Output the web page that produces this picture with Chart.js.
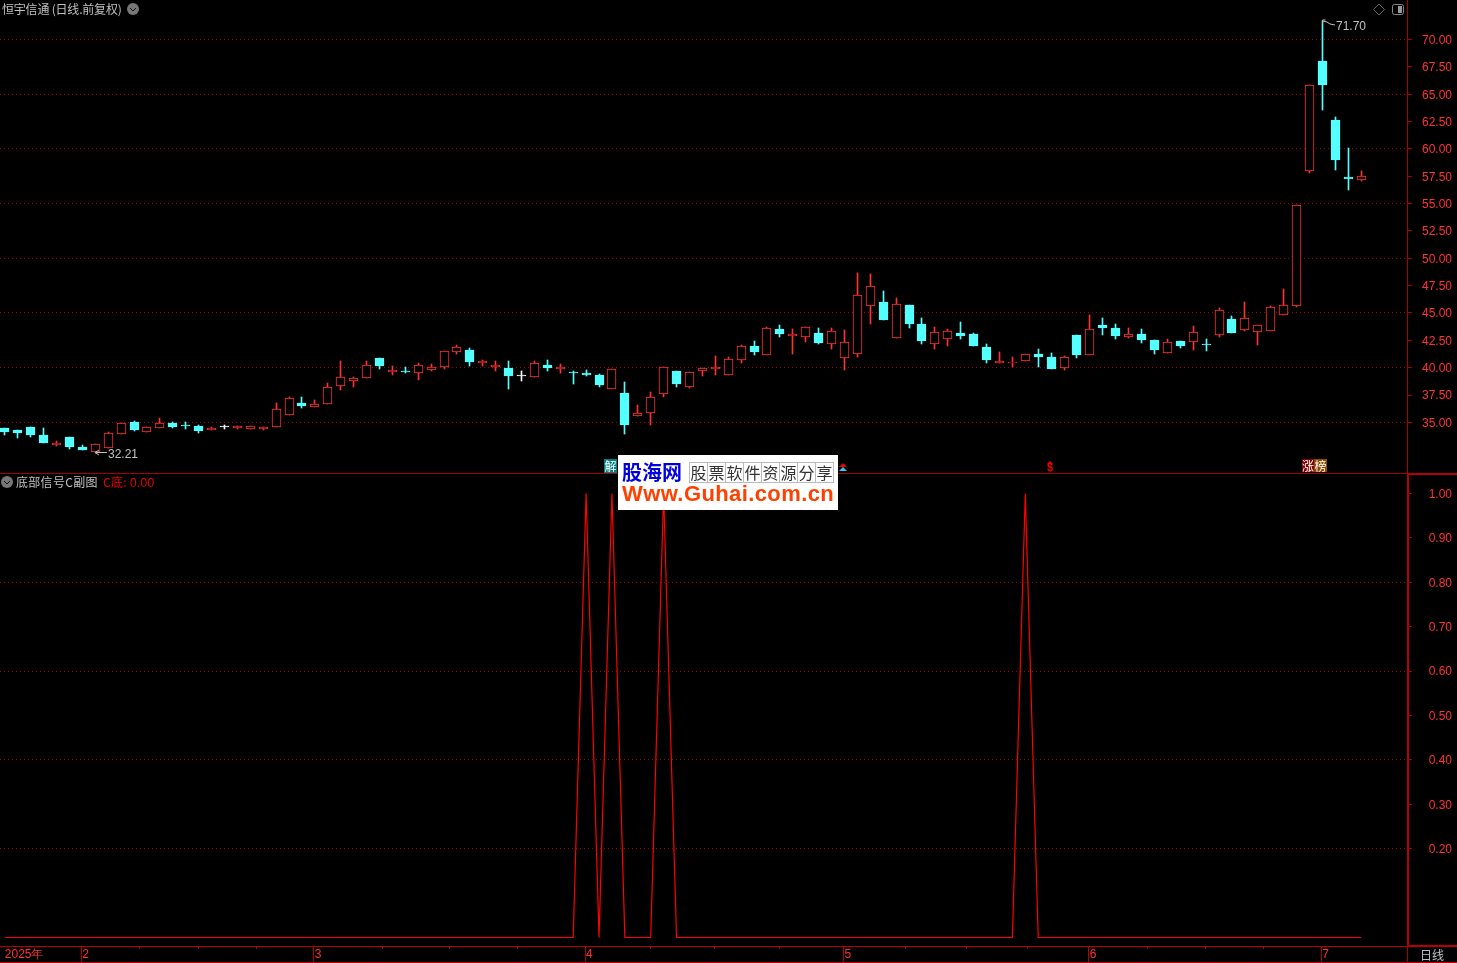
<!DOCTYPE html>
<html lang="zh">
<head>
<meta charset="utf-8">
<title>恒宇信通</title>
<script src="https://cdn.jsdelivr.net/npm/chart.js@4"></script>
<style>
html,body{margin:0;padding:0;background:#000;width:1457px;height:963px;overflow:hidden}
canvas{position:absolute;left:0;display:block}
.t{position:absolute;white-space:nowrap;font:12px/14px "Noto Sans CJK SC","Liberation Sans",sans-serif;color:#c0c0c0}
.n{font-family:"Liberation Sans",sans-serif}
.l{position:absolute;background:#a80000}
svg{position:absolute;left:0;top:0}
.wm{position:absolute;left:618px;top:455px;width:220px;height:55px;background:#fff;overflow:hidden}
.cell{position:absolute;top:7px;width:17px;height:19px;border:1px solid #bbb;font:16px/19px "Noto Sans CJK SC",sans-serif;color:#333;text-align:center;box-sizing:content-box}
</style>
</head>
<body>
<canvas id="priceChart" width="1457" height="473" style="top:0"></canvas>
<canvas id="signalChart" width="1457" height="490" style="top:473px"></canvas>

<div class="l" style="left:0;top:473px;width:1408px;height:1px"></div>
<div class="l" style="left:1408px;top:473px;width:49px;height:2px;background:#b80000"></div>
<div class="l" style="left:1407px;top:473px;width:2px;height:473px;background:#b80000"></div>
<div class="l" style="left:1408px;top:945px;width:49px;height:2px;background:#b80000"></div>
<div class="l" style="left:0;top:946px;width:1408px;height:1px;background:#b80000"></div>
<div class="l" style="left:0;top:962px;width:1457px;height:1px;background:#c00000"></div>
<div class="l" style="left:1407px;top:946px;width:1px;height:17px"></div>

<div class="t" style="left:2px;top:2px;letter-spacing:-0.2px">恒宇信通 (日线.前复权)</div>
<div class="t" style="left:16px;top:475px;letter-spacing:0.3px">底部信号C副图</div>
<div class="t" style="left:103px;top:475px;color:#f00000;letter-spacing:0.3px">C底: <span class="n">0.00</span></div>
<div class="t" style="left:1420px;top:948px">日线</div>
<div class="t n" style="left:108px;top:447px">32.21</div>
<div class="t n" style="left:1336px;top:19px">71.70</div>

<svg width="1457" height="963" xmlns="http://www.w3.org/2000/svg">
  <circle cx="133" cy="9" r="6" fill="#777"/><path d="M130 8l3 3 3-3" stroke="#111" fill="none"/>
  <circle cx="7" cy="482" r="6" fill="#777"/><path d="M4 481l3 3 3-3" stroke="#111" fill="none"/>
  <path d="M1379 4l5.5 5.5-5.5 5.5-5.5-5.5z" stroke="#666" fill="none"/>
  <rect x="1392.5" y="4.5" width="11" height="10" rx="2" stroke="#888" fill="none"/><rect x="1398" y="6" width="4" height="7" fill="#999"/>
  <path d="M95 452.5h12M95 452.5l4-2.5M95 452.5l4 2.5" stroke="#c0c0c0" fill="none"/>
  <path d="M1322.5 24v-4h3M1323 21l4 1 3 2 5 1" stroke="#c0c0c0" fill="none"/>
  <path d="M843 463l4 4h-8z" fill="#f00000"/><path d="M843 467l4 4h-8z" fill="#30c8ff"/>
  <path d="M1050 461l3 3h-6z" fill="#f00000"/>
</svg>
<div class="t n" style="left:1047px;top:462px;font-size:11px;font-weight:bold;color:#f00000;line-height:11px">$</div>

<div class="t" style="left:604px;top:459px;width:13px;height:14px;background:#008080;color:#fff;text-align:center;font-size:12px;line-height:14px">解</div>
<div class="t" style="left:1302px;top:459px;width:12px;height:13px;background:#800000;color:#fff;text-align:center;font-size:12px;line-height:13px">涨</div>
<div class="t" style="left:1314px;top:459px;width:13px;height:13px;background:#8a4a00;color:#fff;text-align:center;font-size:12px;line-height:13px">榜</div>

<div class="wm">
  <div style="position:absolute;left:4px;top:3px;font:bold 20px/28px 'Noto Sans CJK SC',sans-serif;color:#0000e0;white-space:nowrap">股海网</div>
  <div id="cells"></div>
  <div style="position:absolute;left:4px;top:27px;font:bold 22px/24px 'Liberation Sans',sans-serif;letter-spacing:0.4px;color:#ff4000;white-space:nowrap">Www.Guhai.com.cn</div>
</div>

<script>
// ---- data ----
const opens  = [34.49,34.31,34.58,33.85,32.93,33.67,32.75,32.29,32.66,33.94,35.04,34.12,34.49,34.95,34.70,34.67,34.31,34.58,34.49,34.40,34.40,34.58,35.68,36.77,36.41,
36.68,38.33,38.78,39.06,40.89,39.61,39.69,39.52,39.79,40.06,41.43,41.62,40.43,40.06,39.97,39.24,39.15,40.25,39.88,39.60,39.52,39.33,38.08,37.69,35.61,
35.89,37.63,39.67,38.27,39.67,39.88,39.36,40.73,41.98,41.19,43.54,42.90,42.84,43.17,42.20,40.92,41.28,45.61,46.00,42.74,45.73,43.99,42.17,42.62,43.17,
43.08,41.89,40.43,40.47,40.64,41.25,40.98,40.00,42.99,41.19,43.90,43.63,42.84,43.08,42.53,41.37,42.44,42.35,42.09,42.99,44.45,43.45,43.26,43.35,44.79,
45.67,58.01,68.03,62.64,57.43,57.16];
const highs  = [34.49,34.31,34.58,34.49,33.30,33.67,32.93,33.02,34.12,34.95,35.13,34.58,35.40,35.04,35.04,34.76,34.58,34.76,34.67,34.67,34.58,36.77,37.32,37.32,37.05,
38.60,40.61,39.15,40.61,40.89,40.16,40.06,40.43,40.34,41.53,42.07,41.80,40.70,40.61,40.61,39.70,40.61,40.70,40.34,39.70,39.79,39.43,39.85,38.69,36.59,
37.78,40.03,39.67,39.58,39.94,41.07,40.95,42.07,42.44,43.72,43.90,43.54,43.69,43.63,43.63,43.45,48.66,48.56,47.01,46.37,45.73,44.54,43.72,43.54,44.18,
43.17,42.17,41.44,40.98,41.22,41.71,41.34,41.07,42.99,44.82,44.54,43.99,43.63,43.54,42.53,42.62,42.44,43.81,42.62,45.43,44.73,46.00,43.87,45.64,47.19,
54.84,65.81,71.70,62.91,60.08,57.98];
const lows   = [33.85,33.57,33.67,33.12,32.84,32.57,32.47,32.21,32.66,33.94,34.21,34.12,34.49,34.49,34.40,34.03,34.31,34.40,34.40,34.40,34.31,34.58,35.68,36.32,36.41,
36.68,37.96,38.24,39.06,39.88,39.33,39.52,38.88,39.70,39.88,41.25,40.16,40.16,39.70,38.05,38.78,39.15,39.70,39.52,38.51,39.24,38.24,38.08,33.94,35.61,
34.76,37.32,38.24,38.14,39.24,39.33,39.36,40.43,41.16,41.19,42.81,41.25,42.35,42.17,41.71,39.79,40.98,43.99,44.36,42.74,43.63,42.17,41.71,41.98,42.62,
41.98,40.43,40.43,40.03,40.64,40.06,39.88,39.79,40.89,41.19,42.99,42.62,42.71,42.26,41.25,41.37,41.80,41.62,41.52,42.80,43.17,43.35,42.07,43.35,44.79,
45.55,57.83,63.56,58.07,56.24,57.07];
const closes = [34.12,34.03,33.85,33.12,33.12,32.75,32.47,33.02,34.00,34.95,34.31,34.58,34.95,34.58,34.66,34.21,34.49,34.58,34.67,34.67,34.58,36.22,37.23,36.50,36.68,
38.24,39.15,39.06,40.25,40.16,39.79,39.65,40.25,40.06,41.53,41.89,40.52,40.58,40.25,39.24,39.24,40.43,39.97,40.06,39.56,39.33,38.42,39.85,34.76,35.83,
37.29,40.03,38.51,39.58,39.94,40.03,40.76,41.95,41.43,43.60,43.08,43.08,43.69,42.26,43.32,42.32,46.61,47.44,44.36,45.79,43.99,42.44,43.26,43.35,42.90,
41.98,40.70,40.61,40.56,41.22,40.98,39.88,40.95,41.16,43.50,43.63,42.90,43.08,42.53,41.62,42.35,41.98,43.26,42.05,45.24,43.17,44.51,43.87,45.52,45.70,
54.84,65.81,65.84,58.98,57.25,57.49];
const signal = [0,0,0,0,0,0,0,0,0,0,0,0,0,0,0,0,0,0,0,0,0,0,0,0,0,
0,0,0,0,0,0,0,0,0,0,0,0,0,0,0,0,0,0,0,0,1,0,1,0,0,
0,1,0,0,0,0,0,0,0,0,0,0,0,0,0,0,0,0,0,0,0,0,0,0,0,
0,0,0,0,1,0,0,0,0,0,0,0,0,0,0,0,0,0,0,0,0,0,0,0,0,
0,0,0,0,0,0];
const priceTicks  = [35,37.5,40,42.5,45,47.5,50,52.5,55,57.5,60,62.5,65,67.5,70];
const signalTicks = [0.2,0.3,0.4,0.5,0.6,0.7,0.8,0.9,1.0];
const monthBars   = [0,6,24,45,65,84,102];
const monthLabels = ['2025年','2','3','4','5','6','7'];

// ---- style ----
const RED='#ff3232', CYAN='#54ffff', WHITE='#ffffff', AXIS='#a80000', DOT='#a00000';
const FONT={family:'"Liberation Sans",sans-serif',size:12};
const xRange={min:-0.3739,max:108.55};

const cellText='股票软件资源分享';
document.getElementById('cells').innerHTML=[...cellText].map((c,i)=>`<div class="cell" style="left:${71+i*18}px">${c}</div>`).join('');

const colorOf=i=>closes[i]>opens[i]?RED:closes[i]<opens[i]?CYAN:WHITE;

// keep marks on whole pixels, the way the terminal draws them
const snapBars={id:'snapBars',afterDatasetsUpdate(chart){
  chart.getSortedVisibleDatasetMetas().forEach(m=>{
    if(m.type!=='bar')return;
    m.data.forEach(el=>{
      el.x=Math.floor(el.x)+0.5;
      const top=Math.round(Math.min(el.y,el.base));
      let bot=Math.round(Math.max(el.y,el.base));
      if(bot<=top)bot=top+1;
      el.y=top;el.base=bot;el.height=bot-top;
    });
  });
}};
const fitY=s=>{s.width=45;s.paddingTop=0;s.paddingBottom=0;};

const index=opens.map((_,i)=>i);
new Chart(document.getElementById('priceChart'),{
  type:'bar',
  plugins:[snapBars],
  data:{datasets:[
    {label:'body',order:1,grouped:false,barThickness:9,minBarLength:1,borderWidth:1,borderSkipped:false,
     data:index.map(i=>({x:i,y:[opens[i],closes[i]]})),
     borderColor:index.map(colorOf),
     backgroundColor:index.map(i=>colorOf(i)===RED?'#000000':colorOf(i))},
    {label:'wick',order:2,grouped:false,barThickness:1,minBarLength:1,borderWidth:0,
     data:index.map(i=>({x:i,y:[lows[i],highs[i]]})),
     backgroundColor:index.map(colorOf)}
  ]},
  options:{
    responsive:false,animation:false,events:[],
    layout:{padding:{left:0,right:5,top:0,bottom:0}},
    plugins:{legend:{display:false},tooltip:{enabled:false}},
    scales:{
      x:{type:'linear',offset:false,min:xRange.min,max:xRange.max,display:false,grid:{offset:false}},
      y:{type:'linear',position:'right',min:30.375,max:73.61,
        afterBuildTicks(s){s.ticks=priceTicks.map(v=>({value:v}));},
        afterFit:fitY,
        border:{display:true,color:AXIS,width:1,dash:[1,3]},
        grid:{color:c=>c.tick&&c.tick.value%5===0?DOT:'rgba(0,0,0,0)',lineWidth:1,tickColor:AXIS,tickLength:5,tickBorderDash:[]},
        ticks:{color:RED,font:FONT,padding:0,crossAlign:'far',labelOffset:1,autoSkip:false,callback:v=>Number(v).toFixed(2)}
      }
    }
  }
});

const minorTicks=[];
monthBars.slice(1,-1).forEach((m,k)=>{
  const next=monthBars[k+2];
  for(let j=1;j<4;j++)minorTicks.push(m+(next-m)*j/4-0.08);
});
const minorPlugin={id:'minorPlugin',afterDraw(chart){
  const s=chart.scales.x,c=chart.ctx;
  c.save();c.fillStyle='#b80000';
  minorTicks.forEach(v=>c.fillRect(Math.round(s.getPixelForValue(v)),s.top+1,1,2));
  c.restore();
}};

new Chart(document.getElementById('signalChart'),{
  type:'line',
  plugins:[minorPlugin],
  data:{datasets:[{label:'C底',data:signal.map((v,i)=>({x:i,y:v})),borderColor:'#ff0000',borderWidth:1.2,pointRadius:0,tension:0,fill:false}]},
  options:{
    responsive:false,animation:false,events:[],
    layout:{padding:{left:0,right:5,top:1,bottom:0}},
    plugins:{legend:{display:false},tooltip:{enabled:false}},
    scales:{
      x:{type:'linear',offset:false,min:xRange.min,max:xRange.max,position:'bottom',
        afterBuildTicks(s){s.ticks=monthBars.map(m=>({value:m-0.08}));},
        afterFit(s){s.height=17;},
        border:{display:false},
        grid:{drawOnChartArea:false,drawTicks:true,tickLength:16,tickColor:c=>c.index===0?'rgba(0,0,0,0)':'#b80000'},
        ticks:{color:RED,font:FONT,padding:-15,align:'start',labelOffset:1,maxRotation:0,minRotation:0,autoSkip:false,
          callback:(v,i)=>monthLabels[i]}
      },
      y:{type:'linear',position:'right',min:-0.01914,max:1.0439,
        afterBuildTicks(s){s.ticks=signalTicks.map(v=>({value:v}));},
        afterFit:fitY,
        border:{display:false,dash:[1,3]},
        grid:{color:c=>c.tick&&[0.2,0.4,0.6,0.8].includes(c.tick.value)?DOT:'rgba(0,0,0,0)',lineWidth:1,tickColor:AXIS,tickLength:5,tickBorderDash:[]},
        ticks:{color:RED,font:FONT,padding:0,crossAlign:'far',labelOffset:1,autoSkip:false,callback:v=>Number(v).toFixed(2)}
      }
    }
  }
});
</script>
</body>
</html>
